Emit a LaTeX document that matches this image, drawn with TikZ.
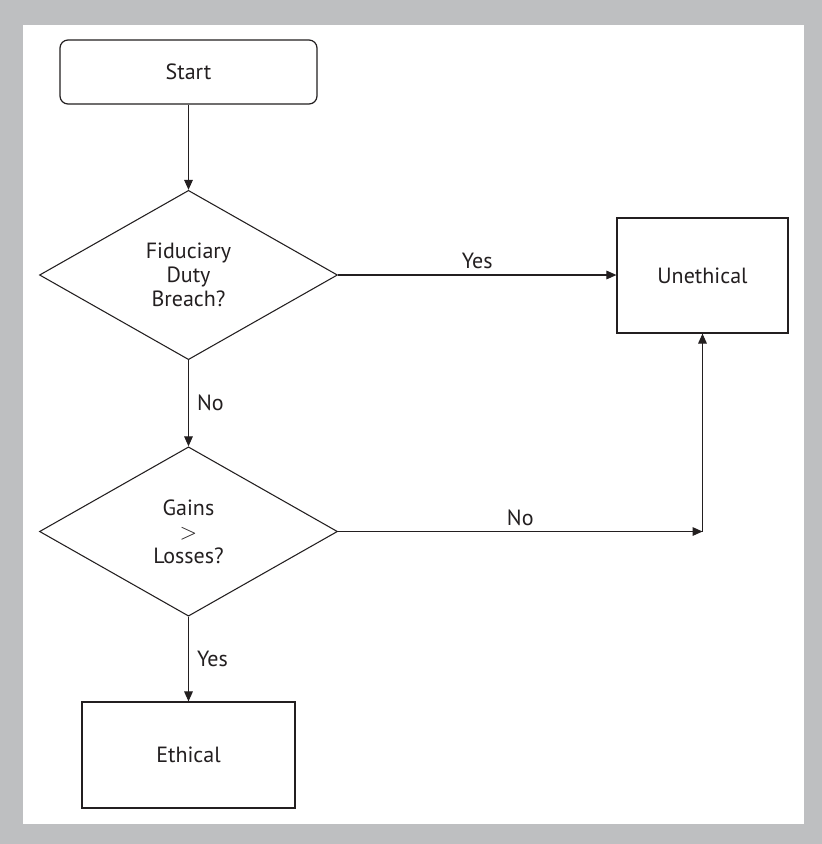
\documentclass[tikz,border=0pt]{standalone}
\usepackage{fontspec}
\setmainfont{PT Sans}
\usetikzlibrary{shapes.geometric,arrows.meta}

\definecolor{framegray}{RGB}{190,191,193}
\definecolor{ink}{RGB}{35,31,32}

\tikzset{
  box/.style={draw=ink, line width=0.9pt, text=ink, inner sep=0pt},
  decision/.style={box, diamond, line width=0.8pt, minimum width=223.5pt, minimum height=127pt, align=center},
  flow/.style={draw=ink, line width=0.8pt, -{Triangle[length=7.5pt,width=6.5pt]}},
  lbl/.style={text=ink, inner sep=4pt}
}

\begin{document}
\begin{tikzpicture}[x=0.75pt,y=-0.75pt,font=\fontsize{16.5}{18}\selectfont]
\fill[framegray] (0,0) rectangle (822,844);
\fill[white] (23,25) rectangle (804,824);

\node[box, rounded corners=6pt, minimum width=192.75pt, minimum height=48pt] (start) at (188.5,72) {Start};
\node[decision] (fiduciary) at (188.5,275) {Fiduciary\\Duty\\Breach?};
\node[decision] (gains) at (188.5,531.5) {Gains\\$>$\\Losses?};
\node[box, minimum width=128.25pt, minimum height=86.25pt] (unethical) at (702.5,275.5) {Unethical};
\node[box, minimum width=159.75pt, minimum height=79.5pt] (ethical) at (188.5,755) {Ethical};
\coordinate (turn) at (unethical |- gains.east);

\draw[flow] (start) -- (fiduciary);
\draw[flow] (fiduciary.east) -- node[lbl, above] {Yes} (fiduciary.east -| unethical.west);
\draw[flow] (fiduciary) -- node[lbl, right, inner sep=6pt] {No} (gains);
\draw[flow] (gains.east) -- node[lbl, above] {No} (turn);
\draw[flow] (turn) -- (unethical);
\draw[flow] (gains) -- node[lbl, right, inner sep=6pt] {Yes} (ethical);
\end{tikzpicture}
\end{document}
